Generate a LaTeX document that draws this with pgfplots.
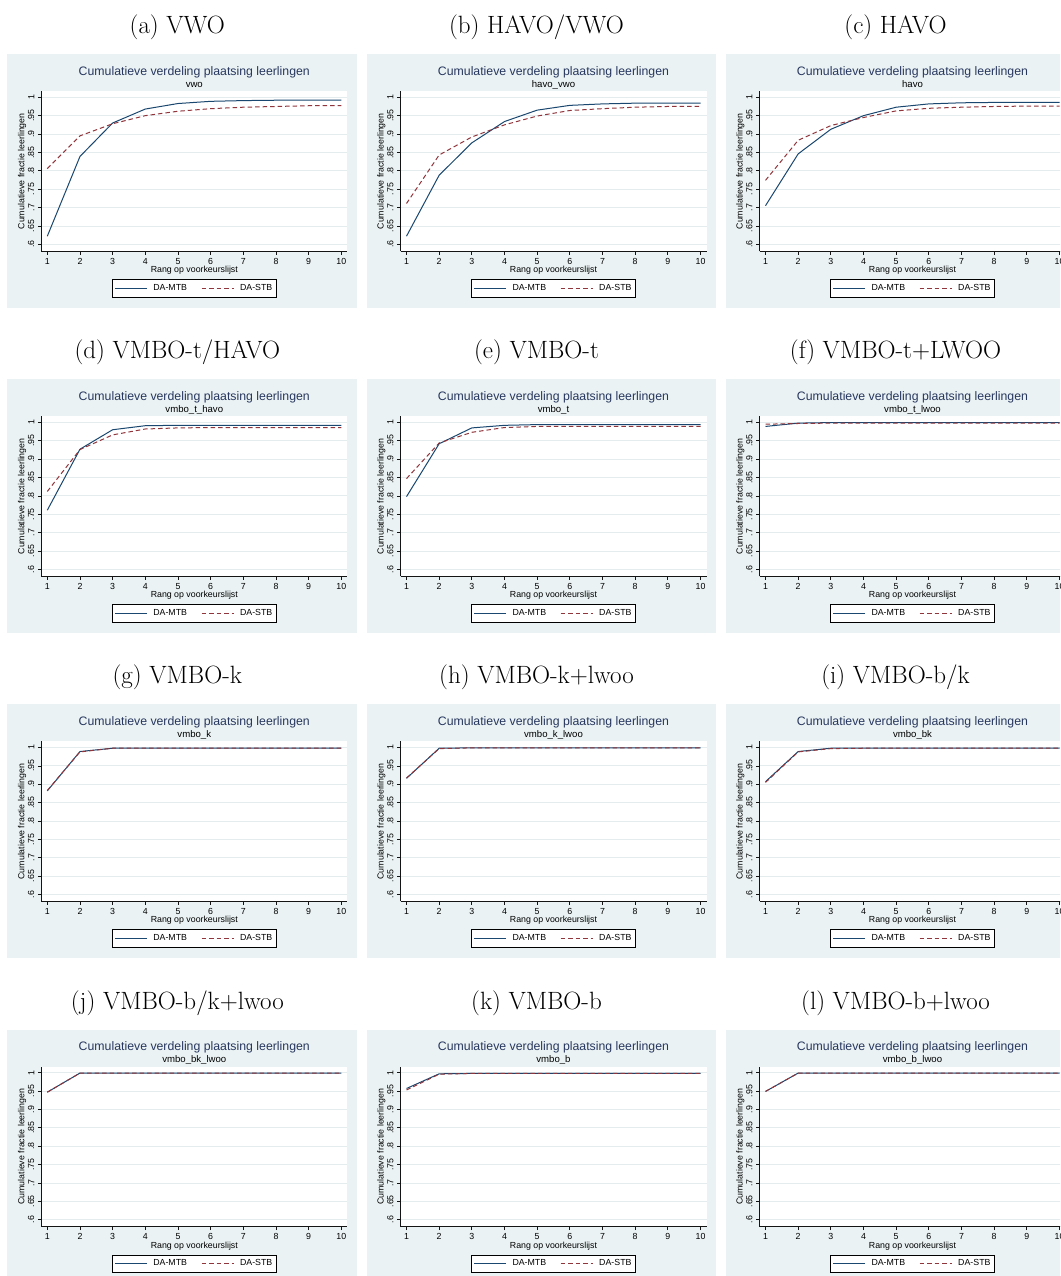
\documentclass[border=0pt]{standalone}
\usepackage{fontspec}
\usepackage{pgfplots}
\pgfplotsset{compat=1.18}
\newfontfamily\arial{Liberation Sans}
\newcommand\axfont{\arial\fontsize{8.8}{10}\selectfont}
\newcommand\titfont{\arial\fontsize{12.3}{14}\selectfont}
\newcommand\subfont{\arial\fontsize{9.6}{11}\selectfont}
\newcommand\capfont{\fontsize{25}{30}\selectfont}
\definecolor{bgc}{RGB}{234,242,243}
\definecolor{gridc}{RGB}{228,236,238}
\definecolor{navyc}{RGB}{26,71,111}
\definecolor{maroonc}{RGB}{144,53,59}
\definecolor{titc}{RGB}{40,55,95}
\definecolor{axc}{RGB}{20,20,20}
\pgfplotsset{
  panel/.style={
    anchor=south west, scale only axis, width=306pt, height=160pt,
    xmin=0.8163, xmax=10.1837, ymin=0.58095, ymax=1.01633,
    axis x line*=bottom, axis y line*=left,
    axis line style={-, draw=axc, line width=0.7pt},
    tick align=outside, major tick length=3.5pt,
    tick style={draw=axc, line width=0.7pt},
    xtick={1,2,3,4,5,6,7,8,9,10},
    xticklabels={1,2,3,4,5,6,7,8,9,10},
    ytick={0.6,0.65,0.7,0.75,0.8,0.85,0.9,0.95,1},
    yticklabels={.6,.65,.7,.75,.8,.85,.9,.95,1},
    /pgf/number format/assume math mode=true,
    ymajorgrids, major grid style={draw=gridc, line width=0.8pt},
    axis background/.style={fill=white},
    ticklabel style={font=\axfont, text=black},
    yticklabel style={rotate=90, anchor=south},
    xticklabel style={anchor=north},
    xlabel={Rang op voorkeurslijst},
    ylabel={Cumulatieve fractie leerlingen},
    label style={font=\axfont},
    xlabel style={at={(axis description cs:0.5,-0.119)}, anchor=center},
    ylabel style={at={(axis description cs:-0.063,0.5)}, anchor=center},
    legend style={at={(axis description cs:0.5,-0.231)}, anchor=center,
      draw=black, line width=0.6pt, fill=white, font=\axfont,
      inner xsep=2pt, inner ysep=3pt,
      /tikz/every odd column/.append style={column sep=4pt},
      /tikz/every even column/.append style={column sep=12pt}},
    legend columns=2,
    legend image code/.code={\draw[##1] (0pt,0pt) -- (32pt,0pt);},
  },
  mtb/.style={draw=navyc, line width=1pt, no marks, solid},
  stb/.style={draw=maroonc, line width=1pt, no marks, dash pattern=on 4.5pt off 3pt},
}
\newcommand{\panel}[6]{%
  \fill[bgc] (#1pt,1276pt-#2pt) rectangle (#1pt+349.5pt,1276pt-#2pt-254pt);
  \node[anchor=base, font=\capfont, inner sep=0pt] at (#1pt+170pt,1276pt-#2pt+20.5pt) {#3};
  \node[anchor=base, font=\titfont, text=titc, inner sep=0pt] at (#1pt+187pt,1276pt-#2pt-21pt) {Cumulatieve verdeling plaatsing leerlingen};
  \node[anchor=base, font=\subfont, inner sep=0pt] at (#1pt+187pt,1276pt-#2pt-33pt) {#4};
  \begin{axis}[panel, at={(#1pt+34pt,1276pt-#2pt-197pt)}]
    \addplot[mtb] coordinates {#5};
    \addplot[stb] coordinates {#6};
    \legend{DA-MTB,DA-STB}
  \end{axis}%
}
\begin{document}
\begin{tikzpicture}
\path[use as bounding box] (0pt,0pt) rectangle (1060pt,1276pt);
\clip (0pt,0pt) rectangle (1060pt,1276pt);
% row 1
\panel{7.3}{54.3}{(a) VWO}{vwo}
{(1,0.622) (2,0.839) (3,0.930) (4,0.968) (5,0.983) (6,0.989) (7,0.991) (8,0.992) (9,0.992) (10,0.992)}
{(1,0.806) (2,0.895) (3,0.928) (4,0.950) (5,0.962) (6,0.969) (7,0.973) (8,0.975) (9,0.977) (10,0.977)}
\panel{366.5}{54.3}{(b) HAVO/VWO}{havo\_vwo}
{(1,0.622) (2,0.788) (3,0.876) (4,0.934) (5,0.965) (6,0.978) (7,0.982) (8,0.984) (9,0.984) (10,0.984)}
{(1,0.711) (2,0.843) (3,0.892) (4,0.925) (5,0.949) (6,0.964) (7,0.969) (8,0.973) (9,0.975) (10,0.975)}
\panel{725.5}{54.3}{(c) HAVO}{havo}
{(1,0.705) (2,0.846) (3,0.913) (4,0.950) (5,0.973) (6,0.982) (7,0.985) (8,0.986) (9,0.986) (10,0.986)}
{(1,0.774) (2,0.883) (3,0.923) (4,0.945) (5,0.963) (6,0.970) (7,0.973) (8,0.975) (9,0.976) (10,0.976)}
% row 2
\panel{7.3}{379.4}{(d) VMBO-t/HAVO}{vmbo\_t\_havo}
{(1,0.761) (2,0.927) (3,0.980) (4,0.991) (5,0.992) (6,0.992) (7,0.992) (8,0.992) (9,0.992) (10,0.992)}
{(1,0.812) (2,0.926) (3,0.966) (4,0.982) (5,0.985) (6,0.986) (7,0.986) (8,0.986) (9,0.986) (10,0.986)}
\panel{366.5}{379.4}{(e) VMBO-t}{vmbo\_t}
{(1,0.798) (2,0.942) (3,0.985) (4,0.992) (5,0.994) (6,0.994) (7,0.994) (8,0.994) (9,0.994) (10,0.994)}
{(1,0.847) (2,0.944) (3,0.973) (4,0.986) (5,0.989) (6,0.989) (7,0.989) (8,0.989) (9,0.989) (10,0.989)}
\panel{725.5}{379.4}{(f) VMBO-t+LWOO}{vmbo\_t\_lwoo}
{(1,0.989) (2,0.998) (3,0.9995) (4,0.9995) (5,0.9995) (6,0.9995) (7,0.9995) (8,0.9995) (9,0.9995) (10,0.9995)}
{(1,0.995) (2,0.997) (3,0.998) (4,0.998) (5,0.998) (6,0.998) (7,0.998) (8,0.998) (9,0.998) (10,0.998)}
% row 3
\panel{7.3}{704.5}{(g) VMBO-k}{vmbo\_k}
{(1,0.882) (2,0.989) (3,0.998) (4,0.998) (5,0.998) (6,0.998) (7,0.998) (8,0.998) (9,0.998) (10,0.998)}
{(1,0.883) (2,0.988) (3,0.998) (4,0.998) (5,0.998) (6,0.998) (7,0.998) (8,0.998) (9,0.998) (10,0.998)}
\panel{366.5}{704.5}{(h) VMBO-k+lwoo}{vmbo\_k\_lwoo}
{(1,0.916) (2,0.998) (3,0.999) (4,0.999) (5,0.999) (6,0.999) (7,0.999) (8,0.999) (9,0.999) (10,0.999)}
{(1,0.917) (2,0.997) (3,0.999) (4,0.999) (5,0.999) (6,0.999) (7,0.999) (8,0.999) (9,0.999) (10,0.999)}
\panel{725.5}{704.5}{(i) VMBO-b/k}{vmbo\_bk}
{(1,0.907) (2,0.989) (3,0.998) (4,0.998) (5,0.998) (6,0.998) (7,0.998) (8,0.998) (9,0.998) (10,0.998)}
{(1,0.905) (2,0.988) (3,0.997) (4,0.998) (5,0.998) (6,0.998) (7,0.998) (8,0.998) (9,0.998) (10,0.998)}
% row 4
\panel{7.3}{1029.7}{(j) VMBO-b/k+lwoo}{vmbo\_bk\_lwoo}
{(1,0.947) (2,0.999) (3,0.999) (4,0.999) (5,0.999) (6,0.999) (7,0.999) (8,0.999) (9,0.999) (10,0.999)}
{(1,0.947) (2,0.999) (3,0.999) (4,0.999) (5,0.999) (6,0.999) (7,0.999) (8,0.999) (9,0.999) (10,0.999)}
\panel{366.5}{1029.7}{(k) VMBO-b}{vmbo\_b}
{(1,0.957) (2,0.997) (3,0.998) (4,0.998) (5,0.998) (6,0.998) (7,0.998) (8,0.998) (9,0.998) (10,0.998)}
{(1,0.953) (2,0.996) (3,0.998) (4,0.998) (5,0.998) (6,0.998) (7,0.998) (8,0.998) (9,0.998) (10,0.998)}
\panel{725.5}{1029.7}{(l) VMBO-b+lwoo}{vmbo\_b\_lwoo}
{(1,0.949) (2,0.999) (3,0.999) (4,0.999) (5,0.999) (6,0.999) (7,0.999) (8,0.999) (9,0.999) (10,0.999)}
{(1,0.949) (2,0.999) (3,0.999) (4,0.999) (5,0.999) (6,0.999) (7,0.999) (8,0.999) (9,0.999) (10,0.999)}
\end{tikzpicture}
\end{document}
